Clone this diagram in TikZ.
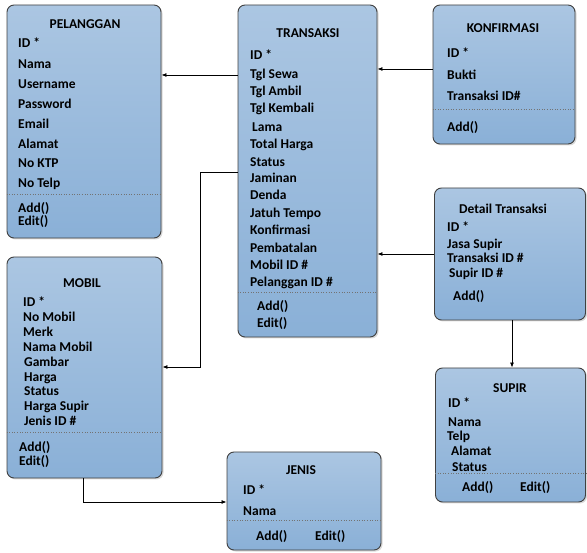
\documentclass[tikz,border=0pt]{standalone}
\usepackage{fontspec}
\setmainfont{Carlito}
\usetikzlibrary{arrows.meta,shadows,shadings}
\definecolor{boxtop}{RGB}{171,198,226}
\definecolor{boxbot}{RGB}{138,176,215}
\begin{document}
\begin{tikzpicture}[x=1pt,y=-1pt,
  box/.style={draw=black!75, line width=0.9pt, rounded corners=7pt, top color=boxtop, bottom color=boxbot,
    drop shadow={opacity=0.3,shadow xshift=1.5pt,shadow yshift=-1.5pt}, inner sep=0pt},
  txt/.style={anchor=base west, inner sep=0pt, font=\fontsize{13.5}{15}\selectfont\bfseries},
  ttl/.style={anchor=base, inner sep=0pt, font=\fontsize{13.5}{15}\selectfont\bfseries},
  sep/.style={draw=black!55, dotted, line width=0.6pt},
  conn/.style={draw=black, line width=0.8pt, -{Latex[length=5pt,width=4pt]}}]
\useasboundingbox (0,0) rectangle (587,553);

% boxes
\node[box, minimum width=154pt, minimum height=233pt] (pel) at (84,121.5) {};
\node[box, minimum width=139pt, minimum height=332pt] (tra) at (307.5,171) {};
\node[box, minimum width=142pt, minimum height=139pt] (kon) at (504,74.5) {};
\node[box, minimum width=151pt, minimum height=132pt] (det) at (510,254) {};
\node[box, minimum width=155pt, minimum height=221pt] (mob) at (84.5,367.5) {};
\node[box, minimum width=154pt, minimum height=98pt] (jen) at (304,501) {};
\node[box, minimum width=150pt, minimum height=134pt] (sup) at (510.5,435) {};

% separators
\coordinate (s1) at (0,194);
\coordinate (s2) at (0,292);
\coordinate (s3) at (0,109);
\coordinate (s4) at (0,432);
\coordinate (s5) at (0,520);
\coordinate (s6) at (0,473);
\draw[sep] (pel.west |- s1) -- (pel.east |- s1);
\draw[sep] (tra.west |- s2) -- (tra.east |- s2);
\draw[sep] (kon.west |- s3) -- (kon.east |- s3);
\draw[sep] (mob.west |- s4) -- (mob.east |- s4);
\draw[sep] (jen.west |- s5) -- (jen.east |- s5);
\draw[sep] (sup.west |- s6) -- (sup.east |- s6);

% PELANGGAN
\node[ttl] (pelt) at (85,28.5) {PELANGGAN};
\node[txt] (pel1) at (18,47.8) {ID *};
\node[txt] (pel2) at (18,68.8) {Nama};
\node[txt] (pel3) at (18,88.5) {Username};
\node[txt] (pel4) at (18,108.5) {Password};
\node[txt] (pel5) at (18,128.5) {Email};
\node[txt] (pel6) at (18,148.5) {Alamat};
\node[txt] (pel7) at (18,167.5) {No KTP};
\node[txt] (pel8) at (18,187.5) {No Telp};
\node[txt] (pel9) at (18,212.5) {Add()};
\node[txt] (pel10) at (18,225.5) {Edit()};

% TRANSAKSI
\node[ttl] (trat) at (308,37.5) {TRANSAKSI};
\node[txt] (tra1) at (250,59.5) {ID *};
\node[txt] (tra2) at (250,78.5) {Tgl Sewa};
\node[txt] (tra3) at (250,95.5) {Tgl Ambil};
\node[txt] (tra4) at (250,112.5) {Tgl Kembali};
\node[txt] (tra5) at (252,131.5) {Lama};
\node[txt] (tra6) at (250,148.5) {Total Harga};
\node[txt] (tra7) at (250,166.5) {Status};
\node[txt] (tra8) at (250,182.5) {Jaminan};
\node[txt] (tra9) at (250,199.5) {Denda};
\node[txt] (tra10) at (250,217.5) {Jatuh Tempo};
\node[txt] (tra11) at (250,234.5) {Konfirmasi};
\node[txt] (tra12) at (250,252.5) {Pembatalan};
\node[txt] (tra13) at (250,269.5) {Mobil ID \#};
\node[txt] (tra14) at (250,286.5) {Pelanggan ID \#};
\node[txt] (tra15) at (257,310.5) {Add()};
\node[txt] (tra16) at (257,327.5) {Edit()};

% KONFIRMASI
\node[ttl] (kont) at (503,32.5) {KONFIRMASI};
\node[txt] (kon1) at (447,57.5) {ID *};
\node[txt] (kon2) at (447,79.5) {Bukti};
\node[txt] (kon3) at (447,100.5) {Transaksi ID\#};
\node[txt] (kon4) at (447,131.5) {Add()};

% Detail Transaksi
\node[ttl] (dett) at (503,213.5) {Detail Transaksi};
\node[txt] (det1) at (447,231.5) {ID *};
\node[txt] (det2) at (447,248.5) {Jasa Supir};
\node[txt] (det3) at (447,262.5) {Transaksi ID \#};
\node[txt] (det4) at (449,277.5) {Supir ID \#};
\node[txt] (det5) at (453,300.5) {Add()};

% MOBIL
\node[ttl] (mobt) at (82,287.8) {MOBIL};
\node[txt] (mob1) at (23,306.2) {ID *};
\node[txt] (mob2) at (23,321.2) {No Mobil};
\node[txt] (mob3) at (23,336.2) {Merk};
\node[txt] (mob4) at (23,351.2) {Nama Mobil};
\node[txt] (mob5) at (24,366.2) {Gambar};
\node[txt] (mob6) at (24,381.2) {Harga};
\node[txt] (mob7) at (24,395.5) {Status};
\node[txt] (mob8) at (24,410.2) {Harga Supir};
\node[txt] (mob9) at (24,425.2) {Jenis ID \#};
\node[txt] (mob10) at (19,451.2) {Add()};
\node[txt] (mob11) at (19,465.2) {Edit()};

% JENIS
\node[ttl] (jent) at (301,474.5) {JENIS};
\node[txt] (jen1) at (243,494.5) {ID *};
\node[txt] (jen2) at (243,515.5) {Nama};
\node[txt] (jen3) at (256,540.5) {Add()};
\node[txt] (jen4) at (315,540.5) {Edit()};

% SUPIR
\node[ttl] (supt) at (510,392.5) {SUPIR};
\node[txt] (sup1) at (448,407.8) {ID *};
\node[txt] (sup2) at (448,426.2) {Nama};
\node[txt] (sup3) at (447,440.5) {Telp};
\node[txt] (sup4) at (451,455.2) {Alamat};
\node[txt] (sup5) at (452,471.2) {Status};
\node[txt] (sup6) at (462,491.2) {Add()};
\node[txt] (sup7) at (520,491.2) {Edit()};

% connectors
\coordinate (c1) at (0,75);
\coordinate (c2) at (0,172);
\coordinate (c2b) at (200,367);
\coordinate (c3) at (0,69);
\coordinate (c4) at (0,254);
\coordinate (c5) at (512,0);
\coordinate (c6) at (83,502);
\draw[conn] (tra.west |- c1) -- (pel.east |- c1);
\draw[conn] (tra.west |- c2) -| (c2b) -- (mob.east |- c2b);
\draw[conn] (kon.west |- c3) -- (tra.east |- c3);
\draw[conn] (det.west |- c4) -- (tra.east |- c4);
\draw[conn] (det.south -| c5) -- (sup.north -| c5);
\draw[conn] (mob.south -| c6) |- (jen.west |- c6);
\end{tikzpicture}
\end{document}
